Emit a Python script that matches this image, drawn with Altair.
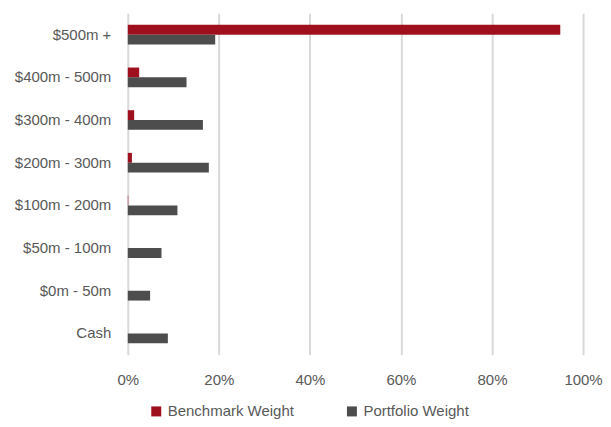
import altair as alt
import pandas as pd

categories = ["$500m +", "$400m - 500m", "$300m - 400m", "$200m - 300m",
              "$100m - 200m", "$50m - 100m", "$0m - 50m", "Cash"]
benchmark = [95.0, 2.5, 1.4, 0.9, 0.1, 0.0, 0.0, 0.0]
portfolio = [19.2, 12.9, 16.5, 17.8, 10.9, 7.4, 4.9, 8.8]
series = ["Benchmark Weight", "Portfolio Weight"]
colors = ["#9E101D", "#4D4D4D"]

rows = []
for c, b, p in zip(categories, benchmark, portfolio):
    rows.append({"cat": c, "series": series[0], "value": b / 100})
    rows.append({"cat": c, "series": series[1], "value": p / 100})
df = pd.DataFrame(rows)

font = "Liberation Sans"
fs = 15

chart = alt.Chart(df).mark_bar().encode(
    y=alt.Y("cat:N", sort=categories, title=None,
            scale=alt.Scale(paddingInner=0.54, paddingOuter=0.27),
            axis=alt.Axis(domain=False, ticks=False, grid=False, labelPadding=17,
                          labelFontSize=fs, labelFont=font, labelColor="#595959")),
    yOffset=alt.YOffset("series:N", sort=series, scale=alt.Scale(paddingInner=0, paddingOuter=0)),
    x=alt.X("value:Q", title=None, scale=alt.Scale(domain=[0, 1], nice=False),
            axis=alt.Axis(format="%", values=[0, 0.2, 0.4, 0.6, 0.8, 1.0], domain=False,
                          ticks=False, grid=True, gridColor="#D9D9D9", gridWidth=2,
                          labelPadding=18, labelFontSize=fs, labelFont=font,
                          labelColor="#595959", labelFlush=False)),
    color=alt.Color("series:N", sort=series, title=None,
                    scale=alt.Scale(domain=series, range=colors),
                    legend=alt.Legend(orient="none", legendX=21, legendY=391,
                                      direction="horizontal",
                                      symbolType="square", symbolSize=100,
                                      symbolStrokeWidth=0, labelFontSize=fs,
                                      labelFont=font, labelColor="#595959",
                                      columnPadding=50)),
).properties(
    width=456, height=342,
    padding={"left": 6, "top": 5, "right": 0, "bottom": 0}
).configure_view(stroke=None)

chart.save("out.html", embed_options={"renderer": "svg", "actions": False})
